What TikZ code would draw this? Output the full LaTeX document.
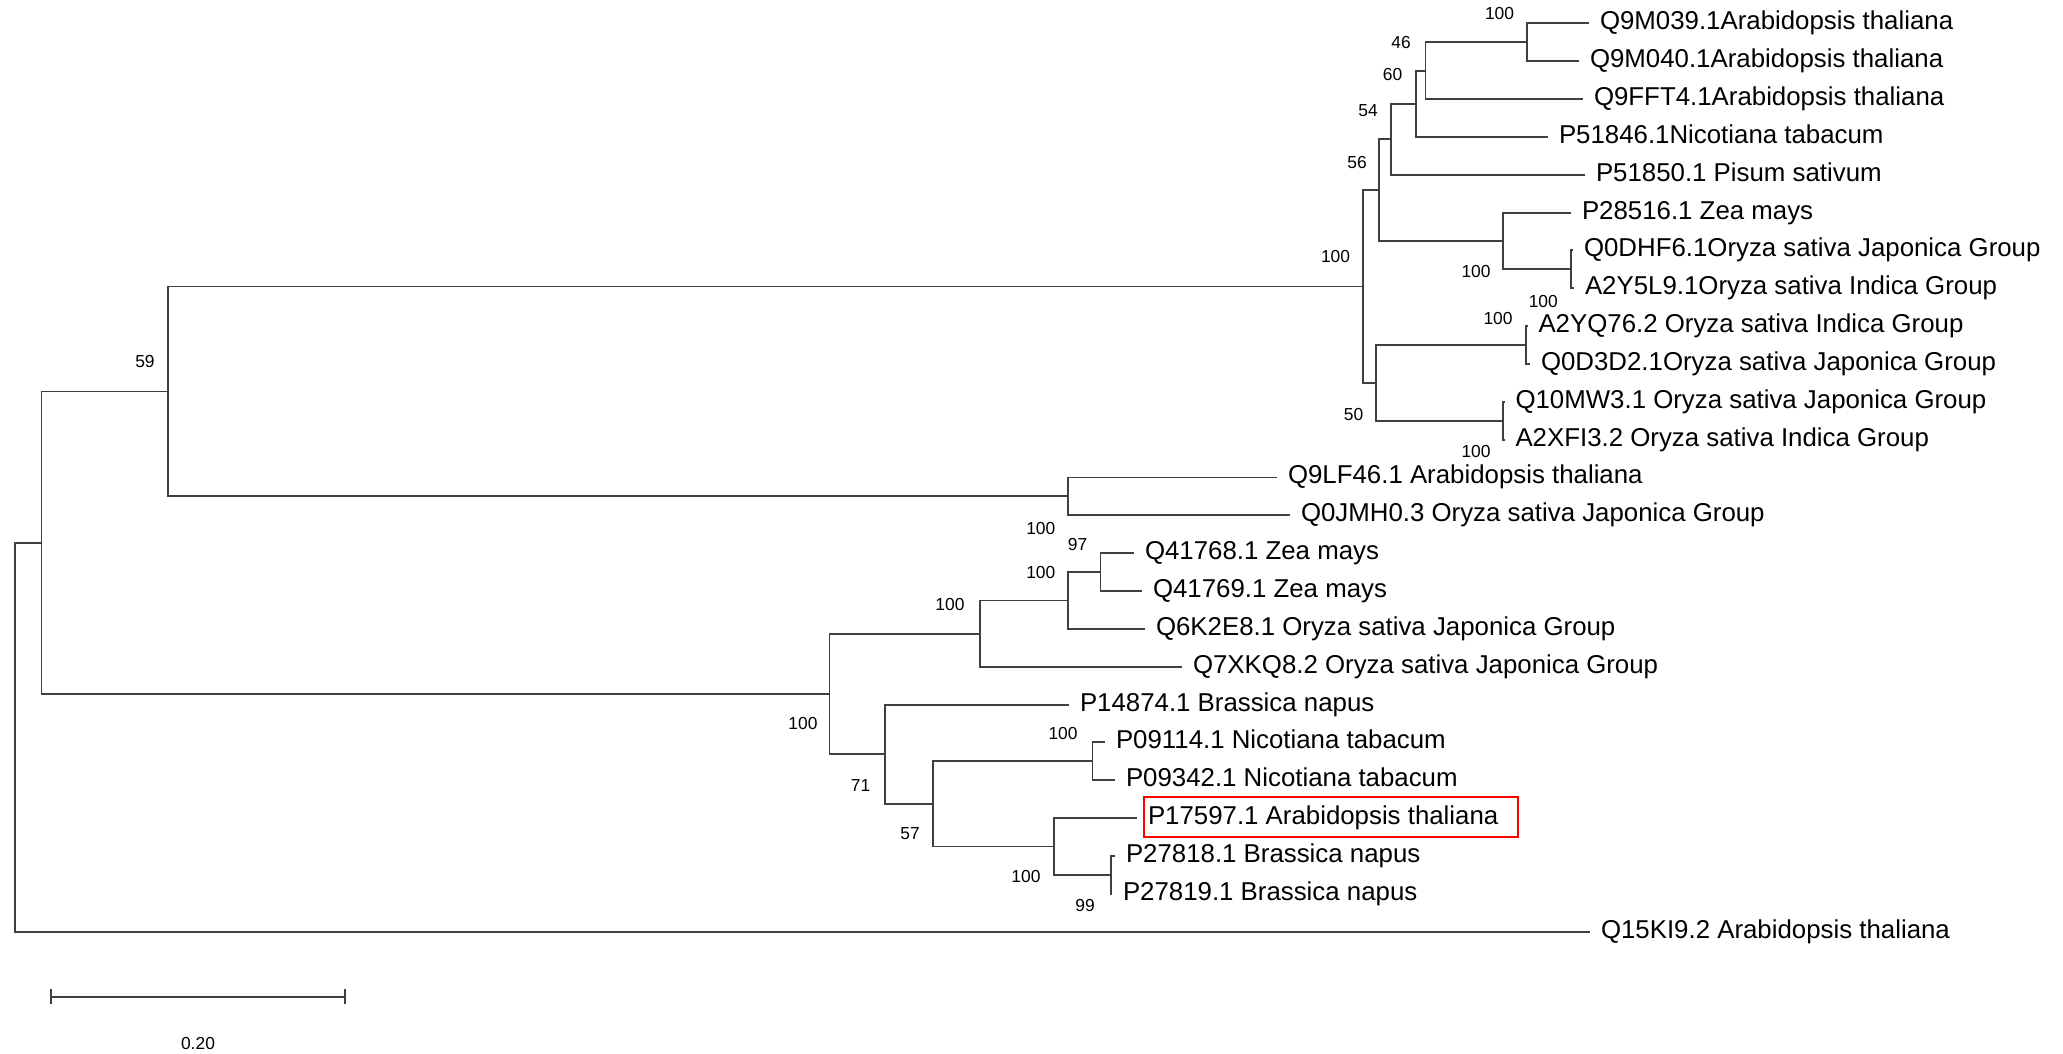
\documentclass[tikz,border=0pt]{standalone}
\usepackage{fontspec}
\setmainfont{Liberation Sans}
\usepackage{tikz}
\usetikzlibrary{arrows.meta}
\tikzset{
  leaf/.style={anchor=west, inner xsep=0.22cm, inner ysep=0pt, outer sep=0pt,
    text height=1.4ex, text depth=0pt, font=\fontsize{14.7}{16}\selectfont},
  boot/.style={inner sep=0pt, font=\fontsize{9.9}{11}\selectfont},
  branch/.style={line width=1.1pt, black!75},
  hibox/.style={draw=red, line width=1.1pt},
}

\begin{document}
\begin{tikzpicture}[x=0.02cm, y=-0.02cm]
\useasboundingbox (0,0) rectangle (2063,1054);
\coordinate (root) at (14.7,737.2);
\coordinate (w)    at (41.5,542.7);
\coordinate (n59)  at (167.9,391.5);
\coordinate (h)    at (1363.3,286.5);
\coordinate (e)    at (1378.8,190.05);
\coordinate (d)    at (1391,139.2);
\coordinate (c)    at (1415.8,103.7);
\coordinate (b)    at (1425.5,70.6);
\coordinate (a)    at (1527.2,42.2);
\coordinate (f)    at (1503.4,240.9);
\coordinate (g)    at (1570.6,269.3);
\coordinate (i)    at (1376.4,382.9);
\coordinate (j)    at (1526.3,345);
\coordinate (k)    at (1503.4,420.7);
\coordinate (l)    at (1068.4,496.4);
\coordinate (r)    at (829.5,694);
\coordinate (o)    at (979.6,633.6);
\coordinate (n)    at (1068.4,600.5);
\coordinate (m)    at (1100.5,572.1);
\coordinate (s)    at (884.6,754.3);
\coordinate (t)    at (933,804);
\coordinate (q)    at (1092.5,761.4);
\coordinate (u)    at (1054,846.5);
\coordinate (v)    at (1110.6,874.9);

\node[leaf] (q9m039) at (1589,23.3)     {Q9M039.1Arabidopsis thaliana};
\node[leaf] (q9m040) at (1579,61.15)    {Q9M040.1Arabidopsis thaliana};
\node[leaf] (q9fft4) at (1583,99)       {Q9FFT4.1Arabidopsis thaliana};
\node[leaf] (p51846) at (1548,136.85)   {P51846.1Nicotiana tabacum};
\node[leaf] (p51850) at (1585,174.7)    {P51850.1 Pisum sativum};
\node[leaf] (p28516) at (1571,212.55)   {P28516.1 Zea mays};
\node[leaf] (q0dhf6) at (1573,250.4)    {Q0DHF6.1Oryza sativa Japonica Group};
\node[leaf] (a2y5l9) at (1574,288.25)   {A2Y5L9.1Oryza sativa Indica Group};
\node[leaf] (a2yq76) at (1527.5,326.1)  {A2YQ76.2 Oryza sativa Indica Group};
\node[leaf] (q0d3d2) at (1530,363.95)   {Q0D3D2.1Oryza sativa Japonica Group};
\node[leaf] (q10mw3) at (1504.5,401.8)  {Q10MW3.1 Oryza sativa Japonica Group};
\node[leaf] (a2xfi3) at (1504.5,439.65) {A2XFI3.2 Oryza sativa Indica Group};
\node[leaf] (q9lf46) at (1277,477.5)    {Q9LF46.1 Arabidopsis thaliana};
\node[leaf] (q0jmh0) at (1290,515.35)   {Q0JMH0.3 Oryza sativa Japonica Group};
\node[leaf] (q41768) at (1134,553.2)    {Q41768.1 Zea mays};
\node[leaf] (q41769) at (1142,591.05)   {Q41769.1 Zea mays};
\node[leaf] (q6k2e8) at (1145,628.9)    {Q6K2E8.1 Oryza sativa Japonica Group};
\node[leaf] (q7xkq8) at (1182,666.75)   {Q7XKQ8.2 Oryza sativa Japonica Group};
\node[leaf] (p14874) at (1069,704.6)    {P14874.1 Brassica napus};
\node[leaf] (p09114) at (1105,742.45)   {P09114.1 Nicotiana tabacum};
\node[leaf] (p09342) at (1115,780.3)    {P09342.1 Nicotiana tabacum};
\node[leaf] (p17597) at (1137,818.15)   {P17597.1 Arabidopsis thaliana};
\node[leaf] (p27818) at (1115,856)      {P27818.1 Brassica napus};
\node[leaf] (p27819) at (1112,893.85)   {P27819.1 Brassica napus};
\node[leaf] (q15ki9) at (1590,931.7)    {Q15KI9.2 Arabidopsis thaliana};

\foreach \i/\j in {root/w, root/q15ki9, w/n59, w/r, n59/h, n59/l,
  h/e, h/i, e/d, e/f, d/c, d/p51850, c/b, c/p51846, b/a, b/q9fft4,
  a/q9m039, a/q9m040, f/p28516, f/g, g/q0dhf6, g/a2y5l9,
  i/j, i/k, j/a2yq76, j/q0d3d2, k/q10mw3, k/a2xfi3,
  l/q9lf46, l/q0jmh0, r/o, r/s, o/n, o/q7xkq8, n/m, n/q6k2e8,
  m/q41768, m/q41769, s/p14874, s/t, t/q, t/u,
  q/p09114, q/p09342, u/p17597, u/v, v/p27818, v/p27819}
{
  \draw[branch] (\i) |- (\j);
}

\node[boot] (bs59)  at (145,361.7)    {59};
\node[boot] (bsa)   at (1499.5,14)    {100};
\node[boot] (bsb)   at (1401,42.7)    {46};
\node[boot] (bsc)   at (1392.5,75)    {60};
\node[boot] (bsd)   at (1368,111)     {54};
\node[boot] (bse)   at (1357,162.3)   {56};
\node[boot] (bsh)   at (1335.5,256.7) {100};
\node[boot] (bsf)   at (1476,271.7)   {100};
\node[boot] (bsg)   at (1543.3,301.7) {100};
\node[boot] (bsj)   at (1498,318.3)   {100};
\node[boot] (bsi)   at (1353.5,415)   {50};
\node[boot] (bsk)   at (1476,451.7)   {100};
\node[boot] (bsl)   at (1040.8,528.3) {100};
\node[boot] (bsm)   at (1077.6,544.3) {97};
\node[boot] (bsn)   at (1040.8,572.3) {100};
\node[boot] (bso)   at (950,605)      {100};
\node[boot] (bsr)   at (803,723.3)    {100};
\node[boot] (bsq)   at (1063,733.3)   {100};
\node[boot] (bss)   at (860.6,786)    {71};
\node[boot] (bst)   at (910,834)      {57};
\node[boot] (bsu)   at (1026,876.7)   {100};
\node[boot] (bsv)   at (1085,906)     {99};

\draw[hibox] (1144.3,797.3) rectangle (1518.3,836.7);

\coordinate (sbl) at (50,996.7);
\coordinate (sbr) at (346,996.7);
\draw[branch, {Bar[width=0.3cm]}-{Bar[width=0.3cm]}] (sbl) -- (sbr);
\node[boot] (sblabel) at (198,1043.3) {0.20};
\end{tikzpicture}
\end{document}
